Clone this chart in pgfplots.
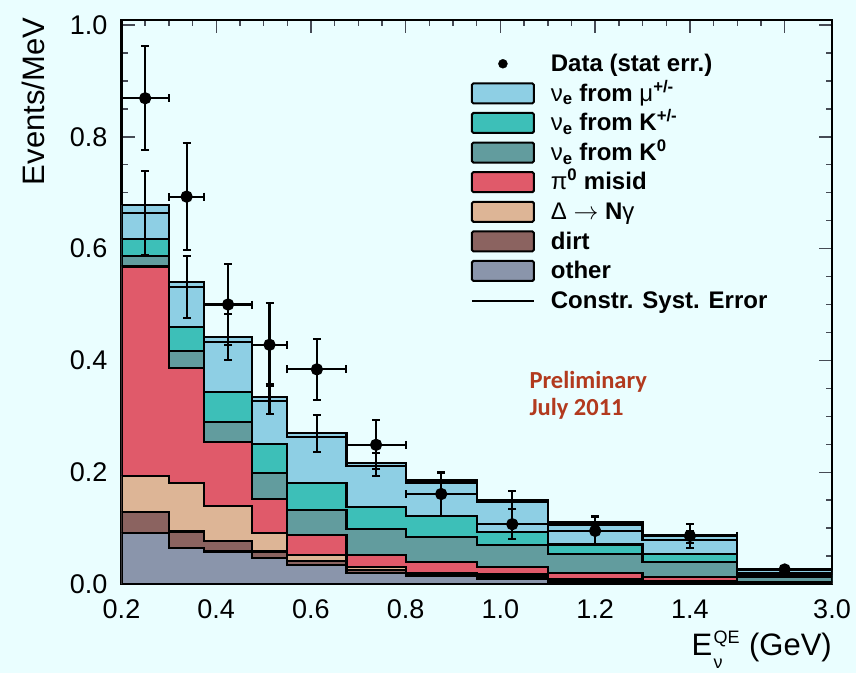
\documentclass[border=0pt]{standalone}
\usepackage{pgfplots}
\pgfplotsset{compat=1.18}
\usepackage{pgfplotstable}
\usepackage{fontspec}
\setmainfont{Liberation Sans}
\newfontfamily\calib{Carlito}

\definecolor{bg}{RGB}{234,254,255}
\definecolor{cmu}{RGB}{142,207,228}
\definecolor{ckpm}{RGB}{61,191,184}
\definecolor{ckz}{RGB}{98,156,158}
\definecolor{cpi}{RGB}{224,90,106}
\definecolor{cdel}{RGB}{221,181,150}
\definecolor{cdirt}{RGB}{139,99,96}
\definecolor{coth}{RGB}{138,149,171}
\definecolor{prelim}{RGB}{178,58,30}
\definecolor{tickc}{RGB}{70,75,85}

% cumulative stack tops per bin (left bin edge), last row closes the last bin
\pgfplotstableread{
x     other dirt   delta  pi0    kzero  kpm    mu     L
0.2   0.091 0.129  0.193  0.568  0.587  0.617  0.678  0.664
0.3   0.064 0.094  0.180  0.386  0.417  0.460  0.540  0.532
0.375 0.058 0.0775 0.1395 0.2546 0.2903 0.344  0.4424 0.4335
0.475 0.046 0.058  0.0907 0.1515 0.199  0.2504 0.334  0.328
0.55  0.034 0.041  0.052  0.0877 0.1324 0.180  0.2696 0.2635
0.675 0.020 0.025  0.031  0.0519 0.0978 0.1383 0.217  0.211
0.8   0.014 0.017  0.019  0.040  0.0835 0.1216 0.185  0.181
0.95  0.009 0.012  0.017  0.031  0.0698 0.0936 0.150  0.146
1.1   0.004 0.006  0.008  0.020  0.053  0.0705 0.110  0.106
1.3   0.003 0.004  0.005  0.013  0.039  0.053  0.087  0.079
1.5   0.001 0.002  0.003  0.004  0.012  0.016  0.025  0.020
1.7   0.001 0.002  0.003  0.004  0.012  0.016  0.025  0.020
}\stack

\pgfplotstableread{
x      y     ex     ey
0.25   0.869 0.05   0.093
0.3375 0.693 0.0375 0.096
0.425  0.500 0.05   0.072
0.5125 0.428 0.0375 0.074
0.6125 0.384 0.0625 0.055
0.7375 0.249 0.0625 0.044
0.875  0.161 0.075  0.039
1.025  0.107 0.075  0.027
1.2    0.095 0.1    0.025
1.4    0.086 0.1    0.022
1.6    0.026 0.1    0.005
}\datatab

\pgfplotstableread{
x      y      ey
0.25   0.6635 0.0745
0.3375 0.531  0.056
0.425  0.442  0.041
0.5125 0.331  0.026
0.6125 0.2695 0.033
0.7375 0.214  0.021
0.875  0.183  0.016
1.025  0.150  0.016
1.2    0.108  0.013
1.4    0.084  0.011
}\predtab

\newcommand{\lt}[1]{\raisebox{0pt}[17pt][5pt]{#1}}

\pgfplotsset{
  boxleg/.style={legend image code/.code={\draw[fill=#1, draw=black, line width=2pt, rounded corners=1.5pt] (0pt,-10pt) rectangle (62pt,10pt);}},
  dotleg/.style={legend image code/.code={\fill[black] (31pt,0pt) circle (4.5pt);}},
  lineleg/.style={legend image code/.code={\draw[black, line width=2pt] (0pt,0pt) -- (62pt,0pt);}},
  stk/.style={const plot, fill=#1, draw=black, line width=2.2pt, forget plot},
}

\begin{document}
\begin{tikzpicture}[x=1pt,y=1pt]
\fill[bg] (0,0) rectangle (856,673);
\begin{axis}[
  at={(121.5pt,89pt)}, anchor=south west,
  scale only axis, width=710.5pt, height=564pt,
  xmin=0.2, xmax=1.7, ymin=0, ymax=1.009,
  axis line style={line width=2.5pt, black},
  tick align=inside,
  tick style={tickc, line width=1.4pt},
  major tick length=13pt, minor tick length=6pt,
  xtick={0.2,0.4,0.6,0.8,1.0,1.2,1.4,1.6},
  xticklabels={0.2,0.4,0.6,0.8,1.0,1.2,1.4,{}},
  minor x tick num=3,
  extra x ticks={1.7}, extra x tick labels={3.0},
  extra x tick style={major tick length=0pt},
  ytick={0,0.2,0.4,0.6,0.8,1.0},
  yticklabels={0.0,0.2,0.4,0.6,0.8,1.0},
  minor y tick num=3,
  tick label style={font=\fontsize{27}{27}\selectfont, inner sep=0pt},
  xticklabel style={anchor=base, yshift=-34pt},
  yticklabel style={anchor=east, xshift=-14pt},
  xlabel={(GeV)},
  xlabel style={name=xl, at={(rel axis cs:1,0)}, anchor=base east, yshift=-71pt, font=\fontsize{31}{31}\selectfont, inner sep=0pt},
  ylabel={Events/MeV},
  ylabel style={at={(rel axis cs:-0.1077,1.004)}, anchor=base east, font=\fontsize{31}{31}\selectfont, inner sep=0pt},
  legend cell align=left,
  legend style={
    at={(rel axis cs:0.4915,0.9427)}, anchor=north west,
    draw=none, fill=none, inner sep=0pt,
    font=\bfseries\fontsize{24}{24}\selectfont,
    /tikz/every odd column/.append style={column sep=14pt},
    row sep=7.1pt,
  },
]
% stacked histogram, drawn from the cumulative top down
\addplot[stk=cmu]   table[x=x,y=mu]    {\stack} \closedcycle;
\addplot[stk=ckpm]  table[x=x,y=kpm]   {\stack} \closedcycle;
\addplot[stk=ckz]   table[x=x,y=kzero] {\stack} \closedcycle;
\addplot[stk=cpi]   table[x=x,y=pi0]   {\stack} \closedcycle;
\addplot[stk=cdel]  table[x=x,y=delta] {\stack} \closedcycle;
\addplot[stk=cdirt] table[x=x,y=dirt]  {\stack} \closedcycle;
\addplot[stk=coth]  table[x=x,y=other] {\stack} \closedcycle;
% constrained systematic error line
\addplot[const plot, draw=black, line width=2.2pt, forget plot] table[x=x,y=L] {\stack};
% prediction error bars
\addplot[draw=none, mark=none, forget plot,
  error bars/.cd, y dir=both, y explicit,
  error bar style={draw=black, line width=2.2pt},
  error mark options={rotate=90, draw=black, line width=2pt, mark size=4pt}]
  table[x=x,y=y,y error=ey] {\predtab};
% data
\addplot[only marks, mark=*, mark size=5pt, black, forget plot, line width=2.2pt,
  error bars/.cd, x dir=both, x explicit, y dir=both, y explicit,
  error bar style={black, line width=2.2pt},
  error mark options={rotate=90, black, line width=2pt, mark size=4pt}]
  table[x=x,y=y,x error=ex,y error=ey] {\datatab};

\addlegendimage{dotleg}
\addlegendentry{\lt{Data (stat err.)}}
\addlegendimage{boxleg=cmu}
\addlegendentry{\lt{\textmd{ν}\textsubscript{e} from \textmd{μ}\textsuperscript{+/-}}}
\addlegendimage{boxleg=ckpm}
\addlegendentry{\lt{\textmd{ν}\textsubscript{e} from K\textsuperscript{+/-}}}
\addlegendimage{boxleg=ckz}
\addlegendentry{\lt{\textmd{ν}\textsubscript{e} from K\textsuperscript{0}}}
\addlegendimage{boxleg=cpi}
\addlegendentry{\lt{\textmd{π}\textsuperscript{0} misid}}
\addlegendimage{boxleg=cdel}
\addlegendentry{\lt{\textmd{Δ} $\rightarrow$ N\textmd{γ}}}
\addlegendimage{boxleg=cdirt}
\addlegendentry{\lt{dirt}}
\addlegendimage{boxleg=coth}
\addlegendentry{\lt{other}}
\addlegendimage{lineleg}
\addlegendentry{\lt{Constr. Syst. Error}}

\node[anchor=base west, inner sep=0pt, text=prelim, font=\calib\bfseries\fontsize{24.5}{24.5}\selectfont] at (rel axis cs:0.574,0.347) {Preliminary};
\node[anchor=base west, inner sep=0pt, text=prelim, font=\calib\bfseries\fontsize{24.5}{24.5}\selectfont] at (rel axis cs:0.574,0.2996) {July 2011};
\end{axis}
% x label symbol: E with superscript QE and subscript nu, as separate pieces
\node[anchor=base east, inner sep=0pt, font=\fontsize{18}{18}\selectfont] (qe) at ([xshift=-9pt, yshift=12pt]xl.base west) {QE};
\node[anchor=base west, inner sep=0pt, font=\fontsize{18}{18}\selectfont] at ([yshift=-25pt]qe.base west) {ν};
\node[anchor=base east, inner sep=0pt, font=\fontsize{31}{31}\selectfont] at ([xshift=-1pt, yshift=-12pt]qe.base west) {E};
\pgfresetboundingbox
\useasboundingbox (0,0) rectangle (856,673);
\end{tikzpicture}
\end{document}
